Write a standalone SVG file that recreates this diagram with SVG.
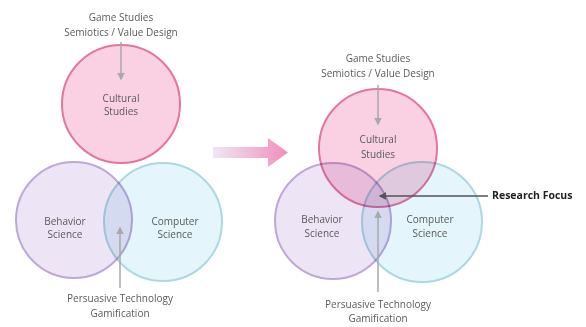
<svg xmlns="http://www.w3.org/2000/svg" width="586" height="327" viewBox="0 0 586 327">
<defs>
<style>
text{font-family:"Open Sans","Liberation Sans",sans-serif;font-size:10px;fill:#5a5a5a;text-anchor:middle}
.cul{fill:#f7c6dc;fill-opacity:0.8;stroke:#e5759f;stroke-width:2}
.beh{fill:#e9ddf2;fill-opacity:0.8;stroke:#bda8d6;stroke-width:2}
.com{fill:#dbf1fa;fill-opacity:0.75;stroke:#acd8e1;stroke-width:2}
.blend{mix-blend-mode:multiply}
.ptr{stroke:#a9a9a9;stroke-width:1.5;fill:none;marker-end:url(#ah)}
.rf{font-weight:bold;fill:#222;font-size:10.5px;text-anchor:start}
</style>
<marker id="ah" viewBox="0 0 10 10" refX="8" refY="5" markerWidth="5" markerHeight="5" orient="auto">
<path d="M0,0L10,5L0,10z" fill="#a9a9a9"/>
</marker>
<marker id="ahd" viewBox="0 0 10 10" refX="8" refY="5" markerWidth="5" markerHeight="5" orient="auto">
<path d="M0,0L10,5L0,10z" fill="#555"/>
</marker>
<linearGradient id="pg" x1="0" y1="0" x2="1" y2="0">
<stop offset="0" stop-color="#ebe3f5"/>
<stop offset="1" stop-color="#f07ab0"/>
</linearGradient>
</defs>

<g id="left-behavior" class="blend"><circle class="beh" cx="74" cy="220" r="58"/>
<text x="65" y="225">Behavior</text><text x="65" y="238">Science</text></g>
<g id="left-computer" class="blend"><circle class="com" cx="163" cy="222" r="59"/>
<text x="175" y="225">Computer</text><text x="175" y="238">Science</text></g>
<g id="left-cultural"><circle class="cul" cx="121" cy="104" r="59"/>
<text x="121" y="102">Cultural</text><text x="121" y="115">Studies</text></g>
<g id="left-game"><text x="121" y="21">Game Studies</text><text x="121" y="36">Semiotics / Value Design</text></g>
<g id="left-persuasive"><text x="120" y="302">Persuasive Technology</text><text x="120" y="317">Gamification</text></g>

<g id="transition-arrow"><path d="M213,147H268V138L288,152.5L268,167V158H213Z" fill="url(#pg)" opacity="0.85"/></g>

<g id="right-behavior" class="blend"><circle class="beh" cx="333" cy="221" r="58"/>
<text x="322" y="223">Behavior</text><text x="322" y="237">Science</text></g>
<g id="right-computer" class="blend"><circle class="com" cx="422" cy="222" r="60"/>
<text x="430" y="223">Computer</text><text x="430" y="237">Science</text></g>
<g id="right-cultural" class="blend"><circle class="cul" cx="378" cy="148" r="59"/>
<text x="378" y="143">Cultural</text><text x="378" y="158">Studies</text></g>
<g id="right-game"><text x="378" y="62">Game Studies</text><text x="378" y="77">Semiotics / Value Design</text></g>
<g id="right-persuasive"><text x="378" y="308">Persuasive Technology</text><text x="378" y="322">Gamification</text></g>
<g id="research-focus"><text class="rf" x="492" y="199">Research Focus</text></g>

<g id="connectors">
<line class="ptr" x1="121" y1="42" x2="121" y2="79"/>
<line class="ptr" x1="120" y1="288" x2="120" y2="228"/>
<line class="ptr" x1="378" y1="85" x2="378" y2="124"/>
<line class="ptr" x1="378" y1="292" x2="378" y2="212"/>
<line x1="488" y1="196" x2="380" y2="196" stroke="#555" stroke-width="1.5" marker-end="url(#ahd)"/>
</g>
</svg>
